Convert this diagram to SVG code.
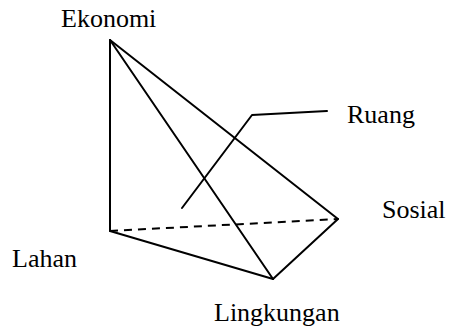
<svg xmlns="http://www.w3.org/2000/svg" width="450" height="329" viewBox="0 0 450 329">
<style>
.l{stroke:#000;stroke-width:2;fill:none;stroke-linecap:round;stroke-linejoin:round}
.d{stroke-dasharray:8,6;stroke-linecap:butt}
.t{font-family:'Liberation Serif','Times New Roman',serif;font-size:26px;fill:#000}
</style>
<rect width="450" height="329" fill="#fff"/>
<g id="connectors">
<line class="l" x1="110" y1="40" x2="110" y2="231"/>
<line class="l" x1="110" y1="40" x2="273" y2="279"/>
<line class="l" x1="110" y1="40" x2="338" y2="219"/>
<line class="l" x1="110" y1="231" x2="273" y2="279"/>
<line class="l" x1="273" y1="279" x2="338" y2="219"/>
<line class="l d" x1="110" y1="231" x2="338" y2="219"/>
<polyline class="l" points="182,208 252,115 327,111"/>
</g>
<g id="ekonomi"><text class="t" x="61" y="27">Ekonomi</text></g>
<g id="ruang"><text class="t" x="347" y="123">Ruang</text></g>
<g id="sosial"><text class="t" x="382" y="218">Sosial</text></g>
<g id="lahan"><text class="t" x="12" y="267">Lahan</text></g>
<g id="lingkungan"><text class="t" x="214" y="321">Lingkungan</text></g>
</svg>
